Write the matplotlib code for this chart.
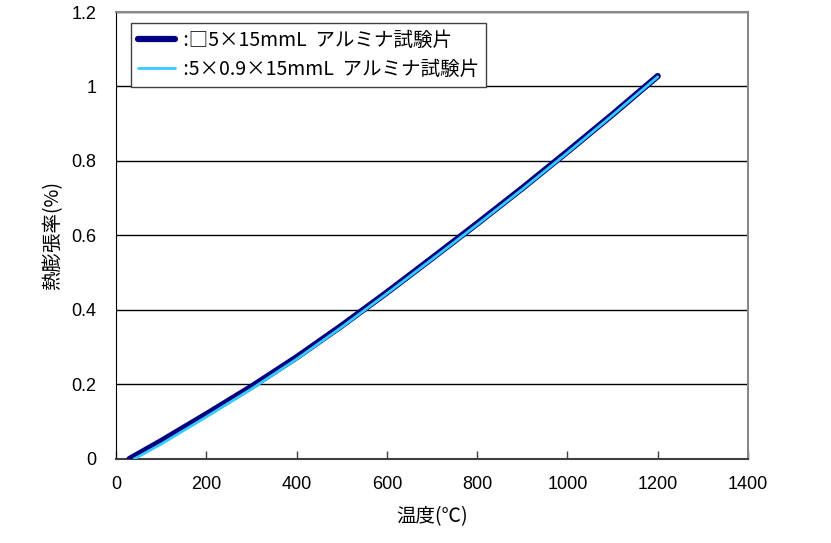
import matplotlib
matplotlib.use("Agg")
import matplotlib.pyplot as plt

plt.rcParams['font.family'] = ['Noto Sans CJK JP', 'DejaVu Sans']

# temperature (deg C) and thermal expansion (%)
temp_square = [30, 100, 200, 300, 400, 500, 600, 700, 800, 900, 1000, 1100, 1200]
exp_square = [0.0, 0.048, 0.120, 0.194, 0.273, 0.358, 0.447, 0.539, 0.632, 0.727, 0.825, 0.925, 1.028]

temp_plate = [40, 100, 200, 300, 400, 500, 600, 700, 800, 900, 1000, 1100, 1200]
exp_plate = [0.0, 0.040, 0.113, 0.188, 0.268, 0.354, 0.444, 0.536, 0.629, 0.724, 0.822, 0.923, 1.026]

label_square = ' :□5×15mmL  アルミナ試験片'
label_plate = ' :5×0.9×15mmL  アルミナ試験片'

xticks = [0, 200, 400, 600, 800, 1000, 1200, 1400]
yticks = [0, 0.2, 0.4, 0.6, 0.8, 1.0, 1.2]
ytick_labels = ['0', '0.2', '0.4', '0.6', '0.8', '1', '1.2']

fig = plt.figure(figsize=(8.31, 5.43), dpi=100)
ax = fig.add_axes([0.1396, 0.1547, 0.7605, 0.8232])

ax.plot(temp_square, exp_square, color='#000080', lw=4.5, solid_capstyle='round', label=label_square, zorder=3)
ax.plot(temp_plate, exp_plate, color='#33ccff', lw=2.0, solid_capstyle='round', label=label_plate, zorder=4)

ax.set_xlim(0, 1400)
ax.set_ylim(0, 1.2)
ax.set_xticks(xticks)
ax.set_yticks(yticks)
ax.set_yticklabels(ytick_labels)
ax.yaxis.grid(True, color='black', lw=1.0)
ax.set_axisbelow(True)

ax.tick_params(axis='x', direction='in', length=6, width=1, colors='#404040', labelcolor='black',
               labelsize=13, pad=12)
ax.tick_params(axis='y', length=0, labelsize=13, pad=14)
for lab in ax.get_xticklabels() + ax.get_yticklabels():
    lab.set_family(['Liberation Sans', 'DejaVu Sans'])

ax.spines['left'].set_color('black')
ax.spines['bottom'].set_color('#404040')
ax.spines['bottom'].set_linewidth(1.5)
ax.spines['top'].set_color('#888888')
ax.spines['right'].set_color('#888888')
ax.spines['top'].set_linewidth(1.5)
ax.spines['right'].set_linewidth(1.5)

ax.set_xlabel('温度(℃)', fontsize=14, labelpad=10)
ax.set_ylabel('熱膨張率(%)', fontsize=14, labelpad=6)

leg = ax.legend(loc='upper left', bbox_to_anchor=(0.024, 0.976), borderaxespad=0,
                fontsize=14, fancybox=False, handlelength=1.9, handletextpad=0.2,
                borderpad=0.35, labelspacing=0.45, framealpha=1)
leg.get_frame().set_edgecolor('#404040')
leg.get_frame().set_linewidth(1.0)

fig.savefig('out.png', dpi=100)
